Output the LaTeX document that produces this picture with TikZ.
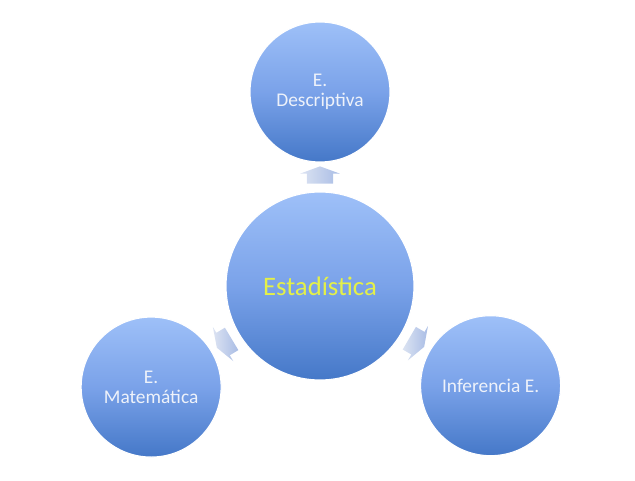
\documentclass[tikz,border=0pt]{standalone}
\usepackage{fontspec}
\setmainfont{Carlito}
\usepackage{tikz}
\usepackage{xcolor}
\usetikzlibrary{shapes,shapes.geometric,shapes.arrows,positioning,calc}

\definecolor{balltop}{HTML}{9EC0F8}
\definecolor{ballmid}{HTML}{7AA2E9}
\definecolor{ballbot}{HTML}{4578C8}
\definecolor{arrowtail}{HTML}{DCE3F2}
\definecolor{arrowhead}{HTML}{A9BDE5}
\definecolor{softwhite}{HTML}{EEF2FA}
\definecolor{lemon}{HTML}{E4F048}

\begin{document}
\begin{tikzpicture}[
    ball/.style={circle,draw=white,line width=0.8pt,top color=balltop,bottom color=ballbot,middle color=ballmid,
                 inner sep=0pt,align=center,text=softwhite,font=\fontsize{13.8}{14}\selectfont},
    blockarrow/.style={single arrow,draw=none,left color=arrowtail,right color=arrowhead,inner xsep=0pt,inner ysep=0.32cm,
                 minimum height=0.43cm,single arrow head extend=0.17cm,single arrow tip angle=140}
  ]
       \useasboundingbox (-8,-4.85) rectangle (7.875,7.15);
       \node (est) [ball,minimum size=4.7cm,text=lemon,font=\fontsize{19}{22}\selectfont] at (0,0) {Estadística};
       \node (desc) [ball,minimum size=3.5cm] at (90:4.85)  {E.\\Descriptiva};
       \node (mat)  [ball,minimum size=3.5cm] at (210.9:4.92) {E.\\Matemática};
       \node (inf)  [ball,minimum size=3.5cm] at (-30.3:4.94) {Inferencia E.};
       % arrows from the middle out
       \node (a_desc) [blockarrow,rotate=90]    at ($(est)!0.56!(desc)$) {};
       \node (a_mat)  [blockarrow,rotate=210.9] at ($(est)!0.555!(mat)$) {};
       \node (a_inf)  [blockarrow,rotate=-30.3] at ($(est)!0.555!(inf)$) {};
\end{tikzpicture}
\end{document}
